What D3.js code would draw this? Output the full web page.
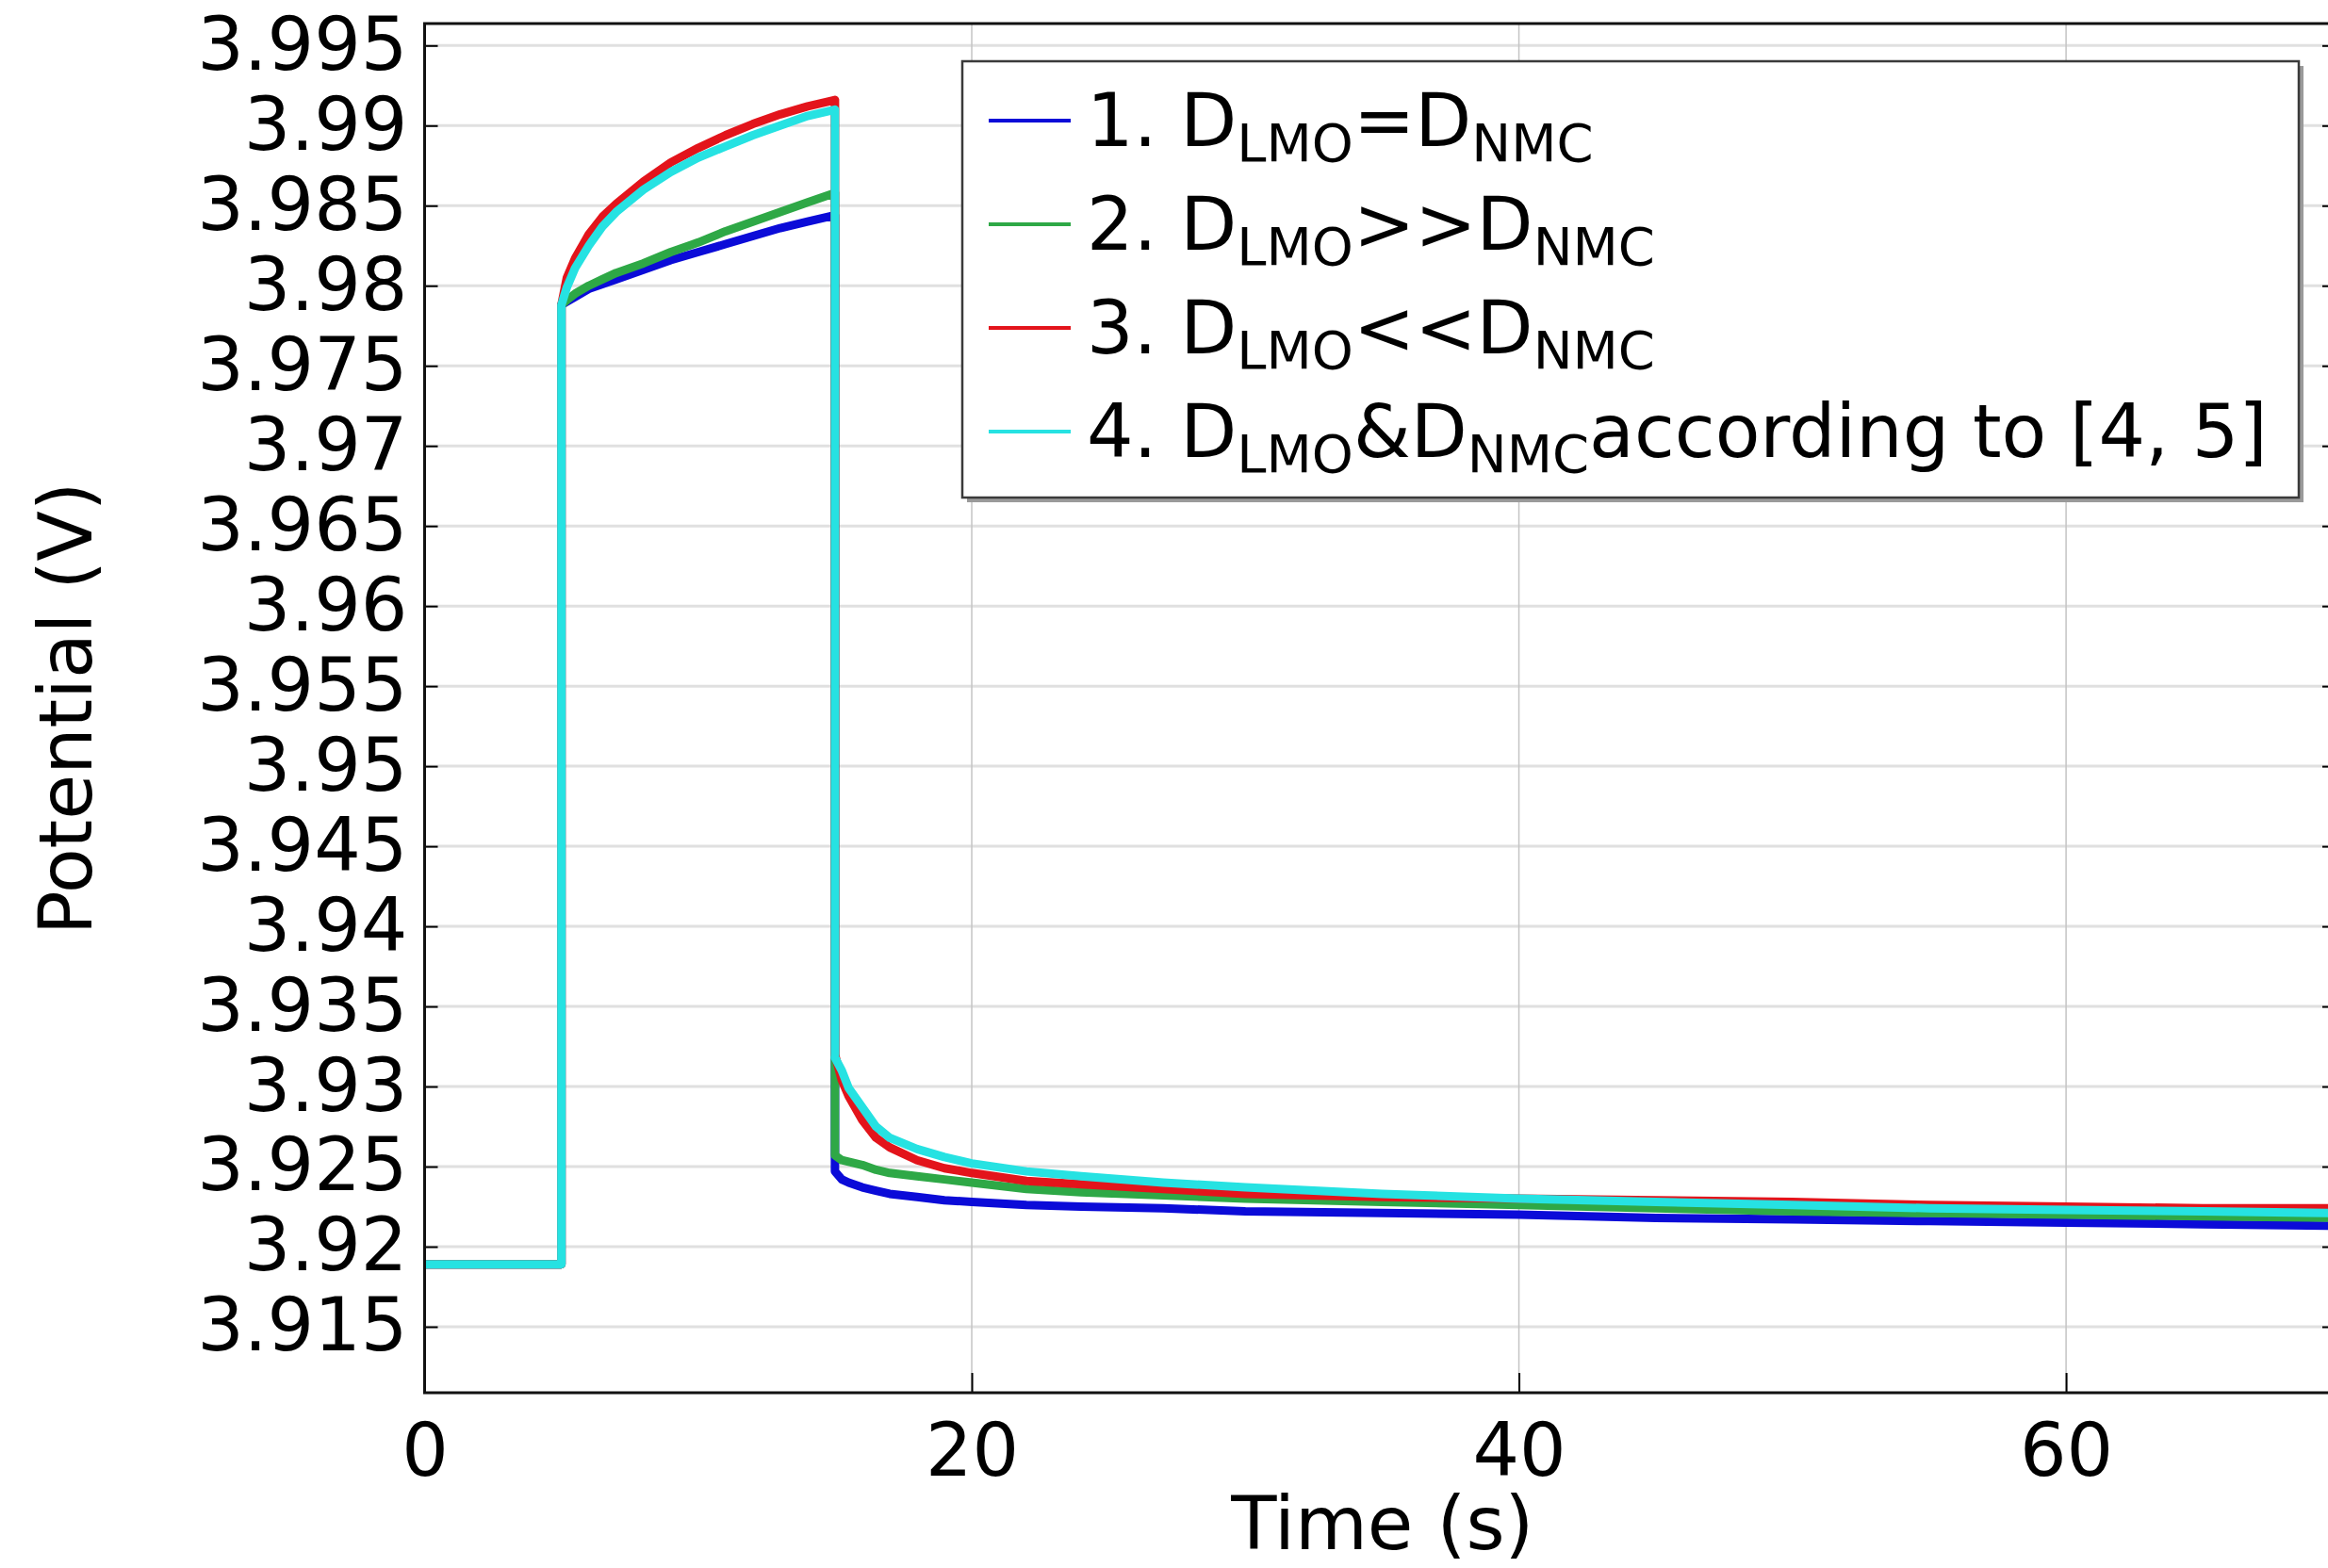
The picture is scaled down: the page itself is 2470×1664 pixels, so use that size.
<!DOCTYPE html>
<html>
<head>
<meta charset="utf-8">
<script src="https://cdn.jsdelivr.net/npm/d3@7"></script>
<style>
  body { margin: 0; background: #ffffff; }
  text { font-family: "DejaVu Sans", sans-serif; fill: #000; }
</style>
</head>
<body>
<div id="potential-chart"></div>
<script>
// DATA (time in s, potential in V)
const TIME = [0, 5, 5, 5.2, 5.5, 6, 6.5, 7, 8, 9, 10, 11, 12, 13, 14, 15,
  15, 15.25, 15.5, 16, 16.5, 17, 18, 19, 20, 22, 24, 27, 30, 35, 40, 45, 50, 55, 60, 65, 70];

// 1. D_LMO = D_NMC
const CASE_EQUAL = [3.9189, 3.9189, 3.9788, 3.979, 3.9793, 3.9798, 3.9801, 3.9804, 3.981, 3.9816,
  3.9821, 3.9826, 3.9831, 3.9836, 3.984, 3.9844,
  3.9247, 3.9242, 3.924, 3.9237, 3.9235, 3.9233, 3.9231, 3.9229, 3.9228, 3.9226, 3.9225,
  3.9224, 3.9222, 3.9221, 3.922, 3.9218, 3.9217, 3.9216, 3.9215, 3.9214, 3.9213];

// 2. D_LMO >> D_NMC
const CASE_LMO_FAST = [3.9189, 3.9189, 3.9788, 3.9791, 3.9795, 3.98, 3.9804, 3.9808, 3.9814, 3.9821,
  3.9827, 3.9834, 3.984, 3.9846, 3.9852, 3.9858,
  3.9257, 3.9254, 3.9253, 3.9251, 3.9248, 3.9246, 3.9244, 3.9242, 3.924, 3.9236, 3.9234,
  3.9232, 3.923, 3.9228, 3.9226, 3.9224, 3.9222, 3.9221, 3.922, 3.9219, 3.9218];

// 3. D_LMO << D_NMC
const CASE_NMC_FAST = [3.9189, 3.9189, 3.9788, 3.9805, 3.9817, 3.9832, 3.9843, 3.9851, 3.9865, 3.9877,
  3.9886, 3.9894, 3.9901, 3.9907, 3.9912, 3.9916,
  3.932, 3.9304, 3.9294, 3.9279, 3.9268, 3.9262, 3.9254, 3.9249, 3.9246, 3.9241, 3.9239,
  3.9236, 3.9233, 3.9231, 3.923, 3.9229, 3.9228, 3.9226, 3.9225, 3.9224, 3.9224];

// 4. D_LMO & D_NMC according to [4, 5]
const CASE_LITERATURE = [3.9189, 3.9189, 3.9788, 3.9799, 3.9811, 3.9825, 3.9837, 3.9846, 3.986, 3.9871,
  3.988, 3.9887, 3.9894, 3.99, 3.9906, 3.991,
  3.9318, 3.931, 3.9299, 3.9287, 3.9275, 3.9268, 3.9261, 3.9256, 3.9252, 3.9247, 3.9244,
  3.924, 3.9237, 3.9233, 3.923, 3.9228, 3.9226, 3.9224, 3.9223, 3.9222, 3.9221];

const Y_TICKS = [3.915, 3.92, 3.925, 3.93, 3.935, 3.94, 3.945, 3.95, 3.955,
  3.96, 3.965, 3.97, 3.975, 3.98, 3.985, 3.99, 3.995];
const Y_TICK_LABELS = ["3.915", "3.92", "3.925", "3.93", "3.935", "3.94", "3.945", "3.95", "3.955",
  "3.96", "3.965", "3.97", "3.975", "3.98", "3.985", "3.99", "3.995"];
const X_TICKS = [0, 20, 40, 60];
const X_TICK_LABELS = ["0", "20", "40", "60"];

// legend text pieces, odd entries are subscripts
const LEGEND_LABELS = [
  ["1. D", "LMO", "=D", "NMC"],
  ["2. D", "LMO", ">>D", "NMC"],
  ["3. D", "LMO", "<<D", "NMC"],
  ["4. D", "LMO", "&D", "NMC", "according to [4, 5]"]
];

const SERIES_COLORS = ["#0b0bd8", "#2ea846", "#e3141b", "#26e2e2"];

// LAYOUT
const WIDTH = 2470;
const HEIGHT = 1664;
const PLOT = { LEFT: 450.5, RIGHT: 2478, TOP: 25, BOTTOM: 1478 };

const svg = d3
  .select("#potential-chart")
  .append("svg")
  .attr("width", WIDTH)
  .attr("height", HEIGHT);

const x = d3.scaleLinear().domain([0, 69.85]).range([PLOT.LEFT, PLOT.RIGHT]);
const y = d3.scaleLinear().domain([3.91088, 3.99637]).range([PLOT.BOTTOM, PLOT.TOP]);

// GRID
svg
  .append("g")
  .selectAll("line")
  .data(Y_TICKS)
  .join("line")
  .attr("x1", PLOT.LEFT)
  .attr("x2", PLOT.RIGHT)
  .attr("y1", (d) => y(d))
  .attr("y2", (d) => y(d))
  .attr("stroke", "#e0e0e0")
  .attr("stroke-width", 3);

svg
  .append("g")
  .selectAll("line")
  .data(X_TICKS.filter((d) => d > 0))
  .join("line")
  .attr("x1", (d) => x(d))
  .attr("x2", (d) => x(d))
  .attr("y1", PLOT.TOP)
  .attr("y2", PLOT.BOTTOM)
  .attr("stroke", "#c4c4c4")
  .attr("stroke-width", 1.5);

// LINES
svg
  .append("clipPath")
  .attr("id", "plot-clip")
  .append("rect")
  .attr("x", PLOT.LEFT)
  .attr("y", PLOT.TOP)
  .attr("width", PLOT.RIGHT - PLOT.LEFT)
  .attr("height", PLOT.BOTTOM - PLOT.TOP);

const series = [CASE_EQUAL, CASE_LMO_FAST, CASE_NMC_FAST, CASE_LITERATURE].map((values) =>
  TIME.map((t, i) => ({ t: t, v: values[i] }))
);

const line = d3
  .line()
  .x((d) => x(d.t))
  .y((d) => y(d.v));

svg
  .append("g")
  .attr("clip-path", "url(#plot-clip)")
  .selectAll("path")
  .data(series)
  .join("path")
  .attr("d", line)
  .attr("fill", "none")
  .attr("stroke", (d, i) => SERIES_COLORS[i])
  .attr("stroke-width", 9)
  .attr("stroke-linejoin", "round")
  .attr("stroke-linecap", "round");

// AXIS
const yAxisGroup = svg
  .append("g")
  .attr("transform", `translate(${PLOT.LEFT}, 0)`)
  .call(
    d3.axisLeft(y)
      .tickValues(Y_TICKS)
      .tickFormat((d, i) => Y_TICK_LABELS[i])
      .tickSize(-14)
      .tickPadding(18)
  )
  .call((g) => g.select(".domain").remove());

const xAxisGroup = svg
  .append("g")
  .attr("transform", `translate(0, ${PLOT.BOTTOM})`)
  .call(
    d3.axisBottom(x)
      .tickValues(X_TICKS)
      .tickFormat((d, i) => X_TICK_LABELS[i])
      .tickSize(-21)
      .tickPadding(33)
  )
  .call((g) => g.select(".domain").remove());

svg
  .append("g")
  .attr("transform", `translate(${PLOT.RIGHT}, 0)`)
  .call(d3.axisRight(y).tickValues(Y_TICKS).tickFormat("").tickSize(-14))
  .call((g) => g.select(".domain").remove());

[yAxisGroup, xAxisGroup].forEach((g) => {
  g.selectAll(".tick text")
    .attr("font-size", 78)
    .attr("font-family", "DejaVu Sans")
    .attr("fill", "#000");
});
svg.selectAll(".tick line").attr("stroke", "#000").attr("stroke-width", 2);

// FRAME
svg
  .append("rect")
  .attr("x", PLOT.LEFT)
  .attr("y", PLOT.TOP)
  .attr("width", PLOT.RIGHT - PLOT.LEFT)
  .attr("height", PLOT.BOTTOM - PLOT.TOP)
  .attr("fill", "none")
  .attr("stroke", "#111")
  .attr("stroke-width", 3);

// LABEL
svg
  .append("text")
  .attr("x", (PLOT.LEFT + 2483) / 2)
  .attr("y", 1644)
  .attr("font-size", 79)
  .attr("text-anchor", "middle")
  .text("Time (s)");

svg
  .append("text")
  .attr("transform", "rotate(-90)")
  .attr("x", -752)
  .attr("y", 97)
  .attr("font-size", 78)
  .attr("text-anchor", "middle")
  .text("Potential (V)");

// LEGEND
const legend = svg.append("g");
const LEGEND_BOX = { X: 1021, Y: 65, W: 1418, H: 463 };

legend
  .append("rect")
  .attr("x", LEGEND_BOX.X + 5)
  .attr("y", LEGEND_BOX.Y + 5)
  .attr("width", LEGEND_BOX.W)
  .attr("height", LEGEND_BOX.H)
  .attr("fill", "#9a9a9a");

legend
  .append("rect")
  .attr("x", LEGEND_BOX.X)
  .attr("y", LEGEND_BOX.Y)
  .attr("width", LEGEND_BOX.W)
  .attr("height", LEGEND_BOX.H)
  .attr("fill", "#fff")
  .attr("stroke", "#3a3a3a")
  .attr("stroke-width", 2.5);

const legendRows = legend
  .selectAll("g")
  .data(LEGEND_LABELS)
  .join("g")
  .attr("transform", (d, i) => `translate(0, ${128 + i * 110})`);

legendRows
  .append("line")
  .attr("x1", 1049)
  .attr("x2", 1136)
  .attr("stroke", (d, i) => SERIES_COLORS[i])
  .attr("stroke-width", 4);

legendRows
  .append("text")
  .attr("x", 1153)
  .attr("y", 27)
  .attr("font-size", 78)
  .selectAll("tspan")
  .data((d) => d)
  .join("tspan")
  .attr("font-size", (d, i) => (i % 2 === 1 ? 56 : 78))
  .attr("dy", (d, i) => (i === 0 ? 0 : i % 2 === 1 ? 16 : -16))
  .text((d) => d);
</script>
</body>
</html>
